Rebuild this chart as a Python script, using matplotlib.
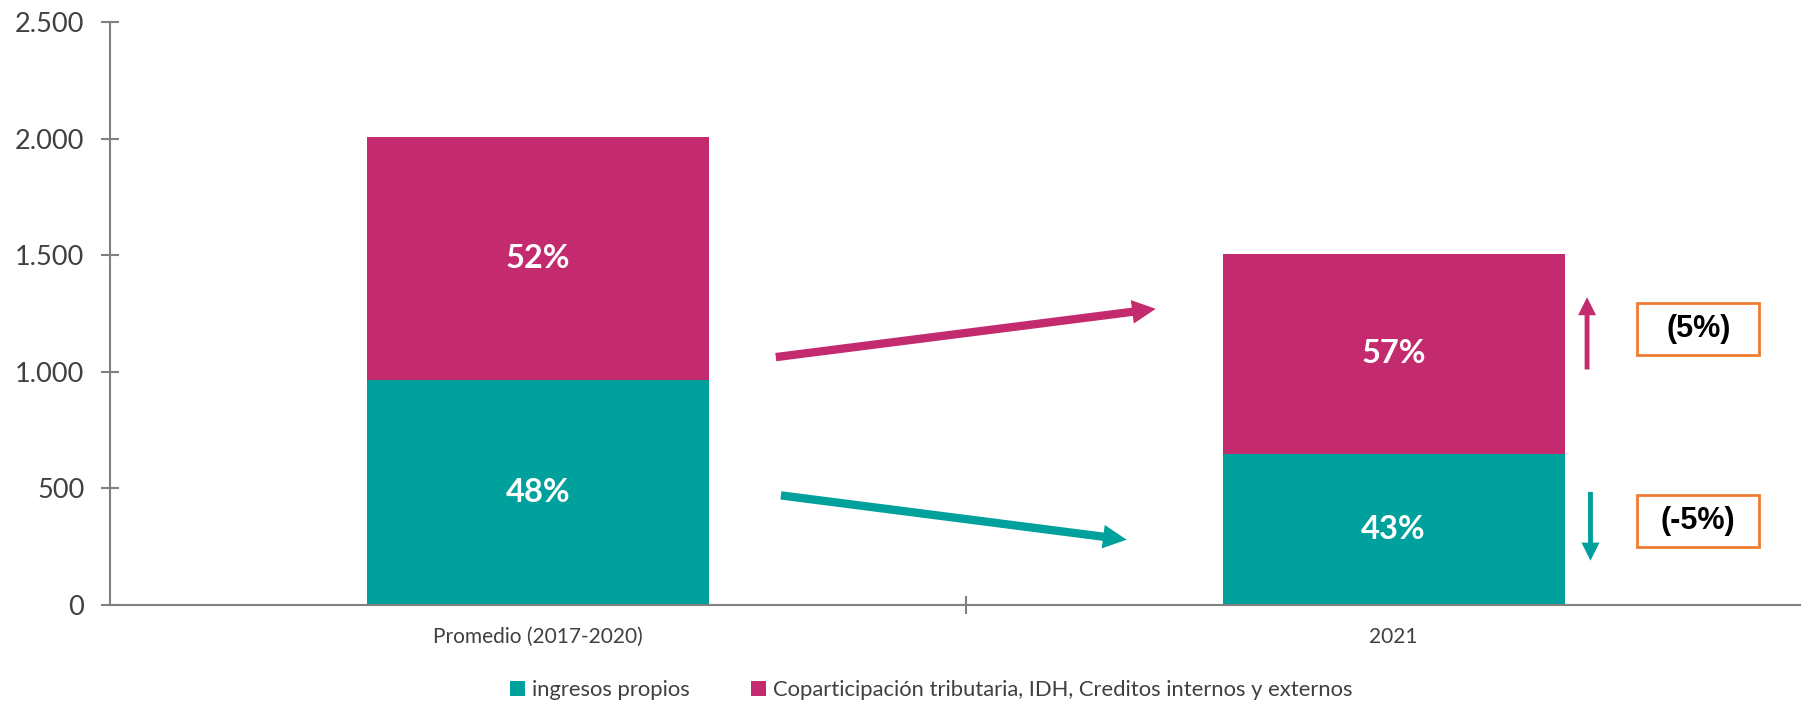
import matplotlib
matplotlib.use("Agg")
import matplotlib.pyplot as plt
from matplotlib.patches import FancyArrowPatch, Rectangle

categories = ["Promedio (2017-2020)", "2021"]
ingresos_propios = [965, 648]
coparticipacion = [1040, 857]
series_names = ["ingresos propios",
                "Coparticipación tributaria, IDH, Creditos internos y externos"]
pct_labels_propios = ["48%", "43%"]
pct_labels_copart = ["52%", "57%"]
change_labels = ["(5%)", "(-5%)"]
yticks = [0, 500, 1000, 1500, 2000, 2500]
ytick_labels = ["0", "500", "1.000", "1.500", "2.000", "2.500"]

TEAL = "#00A19C"
MAGENTA = "#C42B6F"
ORANGE = "#EE7D31"
GREY = "#808080"
TXT = "#404040"

plt.rcParams['font.family'] = ['Lato', 'DejaVu Sans']

fig = plt.figure(figsize=(18.01, 7.02), dpi=100)
ax = fig.add_axes([110/1801, 1-605/702, 1-110/1801, (605-22)/702])

x = list(range(len(categories)))
w = 0.40
b1 = ax.bar(x, ingresos_propios, w, color=TEAL, label=series_names[0], zorder=2)
b2 = ax.bar(x, coparticipacion, w, bottom=ingresos_propios, color=MAGENTA,
            label=series_names[1], zorder=2)

for i in x:
    ax.text(i, ingresos_propios[i]/2, pct_labels_propios[i], ha='center', va='center',
            color='white', fontsize=23.5, fontweight='bold')
    ax.text(i, ingresos_propios[i] + coparticipacion[i]/2, pct_labels_copart[i],
            ha='center', va='center', color='white', fontsize=23.5, fontweight='bold')

ax.set_xlim(-0.5, 1.476)
ax.set_ylim(0, 2500)
ax.set_yticks(yticks)
ax.set_yticklabels(ytick_labels)
ax.set_xticks(x)
ax.set_xticklabels(categories)
ax.set_xticks([0.5], minor=True)

for s in ['top', 'right']:
    ax.spines[s].set_visible(False)
for s in ['left', 'bottom']:
    ax.spines[s].set_color(GREY)
    ax.spines[s].set_linewidth(1.5)

ax.tick_params(axis='y', direction='inout', length=13, width=1.5, color=GREY,
               labelsize=19.5, labelcolor=TXT, pad=12)
ax.tick_params(axis='x', which='major', length=0, labelsize=15, labelcolor=TXT, pad=16)
ax.tick_params(axis='x', which='minor', direction='inout', length=13, width=1.5, color=GREY)

def arrow(x0, y0, x1, y1, color, lw, hw, hl):
    p = FancyArrowPatch((x0, y0), (x1, y1), transform=ax.transData,
                        arrowstyle=f"simple,head_width={hw},head_length={hl},tail_width={lw}",
                        color=color, lw=0, zorder=3, clip_on=False,
                        shrinkA=0, shrinkB=0, mutation_scale=1)
    ax.add_patch(p)

# slanted arrows between bars
arrow(0.278, 1063, 0.722, 1270, MAGENTA, 6, 17, 17)
arrow(0.284, 470, 0.688, 280, TEAL, 6, 17, 17)
# vertical arrows next to 2021 bar
arrow(1.226, 1010, 1.226, 1320, MAGENTA, 3.5, 13, 13)
arrow(1.230, 485, 1.230, 190, TEAL, 3.5, 13, 13)

# boxes
box_x0, box_x1 = 1.2846, 1.4272
for lab, (y0, y1) in zip(change_labels, [(1072, 1295), (249, 472)]):
    ax.add_patch(Rectangle((box_x0, y0), box_x1 - box_x0, y1 - y0, fc='white',
                           ec=ORANGE, lw=2, zorder=3, clip_on=False))
    ax.text((box_x0 + box_x1)/2, (y0 + y1)/2, lab, ha='center', va='center',
            fontsize=22, fontweight='bold', family='Liberation Sans', color='black',
            zorder=4)

fig.legend(handles=[b1, b2], labels=series_names, loc='center',
           bbox_to_anchor=(0.517, 1-690/702), ncol=2, frameon=False,
           fontsize=15.8, labelcolor=TXT, handlelength=0.7, handleheight=0.7,
           handletextpad=0.3, columnspacing=2.8)

fig.savefig("out.png", dpi=100)
